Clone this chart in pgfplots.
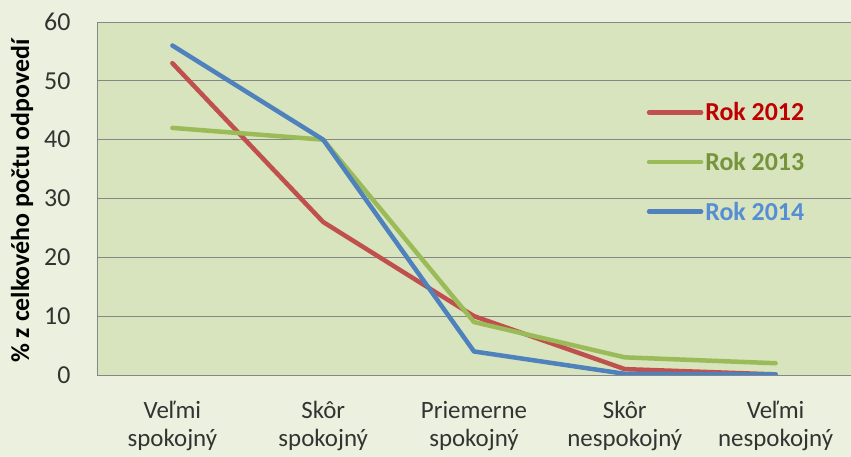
\documentclass[border=0pt]{standalone}
\usepackage{pgfplots}
\pgfplotsset{compat=1.18}
\usepackage{fontspec}
\setmainfont{Carlito}
\definecolor{outerbg}{HTML}{EBF1DE}
\definecolor{plotbg}{HTML}{D7E4BD}
\definecolor{gridc}{HTML}{868686}
\definecolor{cred}{HTML}{C0504D}
\definecolor{cgreen}{HTML}{9BBB59}
\definecolor{cblue}{HTML}{4F81BD}
\definecolor{tred}{HTML}{C00000}
\definecolor{tgreen}{HTML}{77933C}
\definecolor{tblue}{HTML}{558ED5}
\begin{document}
\begin{tikzpicture}
\fill[outerbg] (0,0) rectangle (851bp,457bp);
\begin{axis}[
  at={(97bp,82bp)}, anchor=south west,
  scale only axis, width=754bp, height=353bp,
  xmin=-0.5, xmax=4.5, ymin=0, ymax=60,
  ytick={0,10,...,60},
  xtick={0,1,2,3,4},
  xticklabels={{Veľmi\\spokojný},{Skôr\\spokojný},{Priemerne\\spokojný},{Skôr\\nespokojný},{Veľmi\\nespokojný}},
  xticklabel style={align=center, font=\fontsize{25}{28}\selectfont, text=black!80, yshift=-23bp},
  yticklabel style={font=\fontsize{26}{28}\selectfont, text=black!80, xshift=-23bp},
  /pgf/number format/assume math mode=true,
  major tick length=0pt,
  ymajorgrids, grid style={gridc, line width=0.9bp},
  axis line style={gridc, line width=0.9bp},
  axis x line*=bottom, axis y line*=left,
  axis background/.style={fill=plotbg},
  ylabel={\bfseries\% z celkového počtu odpovedí},
  every axis y label/.style={at={(-0.0995,0.493)}, rotate=90, anchor=center, font=\fontsize{26}{30}\selectfont},
  legend style={draw=none, fill=none, at={(0.729,0.778)}, anchor=north west, inner sep=0pt,
    row sep=26bp, font=\fontsize{26}{30}\selectfont\bfseries},
  legend cell align=left,
  legend image code/.code={\draw[#1, line width=4.5bp, line cap=round] (0bp,0bp) -- (52bp,0bp);},
]
\addplot[cred, line width=4.5bp, line cap=round, line join=round] coordinates {(0,53) (1,26) (2,10) (3,1) (4,0.1)};
\addlegendentry{\textcolor{tred}{Rok 2012}}
\addplot[cgreen, line width=4.5bp, line cap=round, line join=round] coordinates {(0,42) (1,40) (2,9) (3,3) (4,2)};
\addlegendentry{\textcolor{tgreen}{Rok 2013}}
\addplot[cblue, line width=4.5bp, line cap=round, line join=round] coordinates {(0,56) (1,40) (2,4) (3,0.2) (4,0.1)};
\addlegendentry{\textcolor{tblue}{Rok 2014}}
\end{axis}
\pgfresetboundingbox
\path (0,0) rectangle (851bp,457bp);
\end{tikzpicture}
\end{document}
